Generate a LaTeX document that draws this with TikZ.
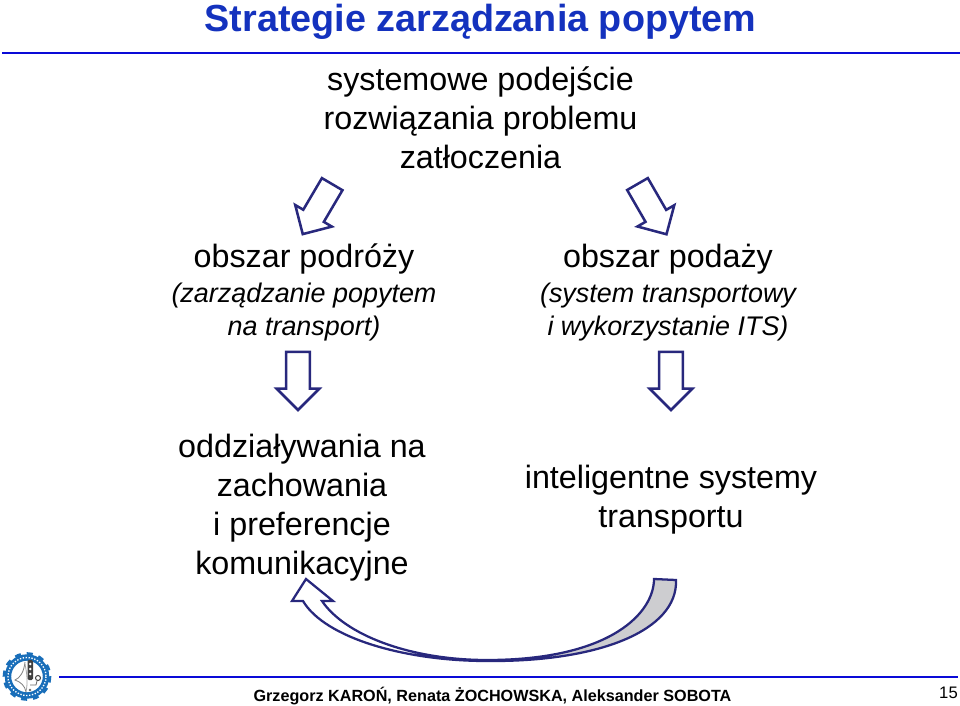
\documentclass[tikz,border=0pt]{standalone}
\usepackage{fontspec}
\setmainfont{Liberation Sans}
\usepackage{tikz}
\usetikzlibrary{positioning,shapes.arrows}
\definecolor{rulecol}{RGB}{10,10,215}
\definecolor{titlecol}{RGB}{20,50,190}
\definecolor{arrowcol}{RGB}{40,40,125}
\definecolor{bendfill}{RGB}{205,205,208}
\definecolor{gearcol}{RGB}{25,110,185}
\tikzset{
  titletext/.style={text=titlecol,font=\fontsize{28.3}{32}\selectfont\bfseries,inner sep=0pt},
  maintext/.style={align=center,inner sep=0pt,font=\fontsize{24.2}{29.25}\selectfont},
  blockarrow/.style={single arrow,draw=arrowcol,line width=1.9pt,fill=white,minimum height=43.5pt,minimum width=31pt,
    single arrow head extend=7pt,inner sep=8pt,anchor=center},
  rulers/.style={draw=rulecol,line width=1.6pt},
  footer/.style={inner sep=0pt,anchor=base}
}
\newcommand{\subline}[1]{{\fontsize{20.2}{25}\selectfont\itshape #1}}
\begin{document}
\begin{tikzpicture}[x=0.75pt,y=-0.75pt]
  \useasboundingbox (0,0) rectangle (960,706);
  \node[titletext] (title) at (480.5,22) {Strategie zarządzania popytem};
  \draw[rulers] (2,53) -- (960,53);
  \node[maintext] (problem) at (480.5,118) {systemowe podejście\\rozwiązania problemu\\zatłoczenia};
  \node[maintext] (travel) at (304,292.7) {obszar podróży\\[-3pt]\subline{(zarządzanie popytem}\\[-4.5pt]\subline{na transport)}};
  \node[maintext] (supply) at (668,292.7) {obszar podaży\\[-3pt]\subline{(system transportowy}\\[-4.5pt]\subline{i wykorzystanie ITS)}};
  \node[blockarrow,rotate=-120.5] (arrowtravel) at (320.5,204) {};
  \node[blockarrow,rotate=-60] (arrowsupply) at (649,204) {};
  \node[blockarrow,rotate=-90] (arrowbehav) at (298,375) {};
  \node[blockarrow,rotate=-90] (arrowits) at (671,375) {};
  \node[maintext] (behaviour) at (302,507.5) {oddziaływania na\\zachowania\\i preferencje\\komunikacyjne};
  \node[maintext] (its) at (671,500) {inteligentne systemy\\transportu};
  % curved return arrow
  \fill[bendfill] (654,579) .. controls (654,612) and (612,660) .. (487,660)
    .. controls (600,662) and (678,630) .. (676,580) -- cycle;
  \draw[arrowcol,line width=1.7pt] (654,579) .. controls (654,612) and (612,660) .. (487,660)
    .. controls (410,660) and (345,635) .. (322,601) -- (333,601) -- (306,579) -- (292,601) -- (303,601)
    .. controls (325,638) and (405,661) .. (487,661)
    .. controls (600,662) and (678,630) .. (676,580) -- cycle;
  % logo
  \draw[gearcol,line width=2pt,dash pattern=on 4.5pt off 4.5pt] (27,676.5) circle (23);
  \draw[gearcol,fill=white,line width=4.8pt] (27,676.5) circle (19);
  \draw[white,line width=1pt,dash pattern=on 1pt off 1.2pt] (27,676.5) circle (19);
  \draw[gray,line width=.6pt] (25,662) .. controls (24,672) and (20,678) .. (15,680) .. controls (21,682) and (25,686) .. (26,692);
  \draw[gray!70,line width=.6pt] (25,664) .. controls (27,674) and (28,682) .. (26,692);
  \fill[black!75,rounded corners=1pt] (27.5,660) rectangle (33,680);
  \foreach \y in {664,669,674} \fill[white] (30.2,\y) circle (1.4);
  \draw[black!70,line width=.8pt] (38,678) circle (2.5);
  \draw[black!60,line width=.6pt] (30,685) -- (36,685) -- (37,681);
  \fill[black!60] (30,690) circle (1.3);
  \draw[rulers] (59,677) -- (958,677);
  \node[footer,font=\fontsize{12.13}{16}\selectfont\bfseries] (authors) at (492.5,701) {Grzegorz KAROŃ, Renata ŻOCHOWSKA, Aleksander SOBOTA};
  \node[footer,font=\fontsize{12.5}{16}\selectfont] (pageno) at (948.5,698) {15};
\end{tikzpicture}
\end{document}
